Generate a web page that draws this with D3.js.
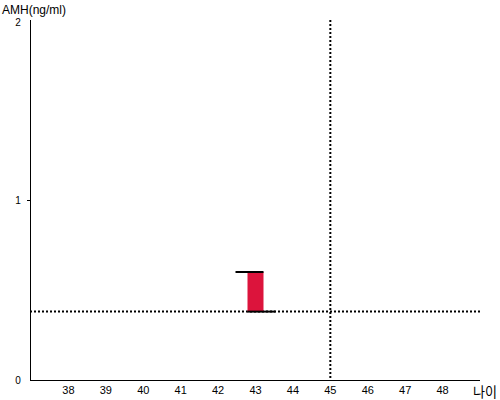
<!DOCTYPE html>
<html>
<head>
<meta charset="utf-8">
<script src="https://cdn.jsdelivr.net/npm/d3@7"></script>
<style>
  body { margin: 0; background: #fff; }
  text { font-family: "Liberation Sans", Arial, sans-serif; fill: #000; }
</style>
</head>
<body>
<div id="chart"></div>
<script>
// data
var ages = [38, 39, 40, 41, 42, 43, 44, 45, 46, 47, 48];
var yTicks = [0, 1, 2];
var barAge = [43];
var barLow = [0.38];
var barHigh = [0.6];
var refAge = 45;
var refAmh = 0.38;

var svg = d3.select("#chart").append("svg")
    .attr("width", 500)
    .attr("height", 400);

var x = d3.scaleLinear().domain([37, 49]).range([31, 480]);
var y = d3.scaleLinear().domain([0, 2]).range([380, 20]);

// axes
svg.append("line")
    .attr("x1", 30.5).attr("x2", 30.5)
    .attr("y1", y(2)).attr("y2", y(0))
    .attr("stroke", "#000");
svg.append("line")
    .attr("x1", 30).attr("x2", 480)
    .attr("y1", 380.5).attr("y2", 380.5)
    .attr("stroke", "#000");

svg.selectAll(".ytick")
    .data(yTicks.filter(d => d > 0 && d < 2))
    .enter().append("line")
    .attr("x1", 27).attr("x2", 30)
    .attr("y1", d => Math.round(y(d)) + 0.5)
    .attr("y2", d => Math.round(y(d)) + 0.5)
    .attr("stroke", "#000");

svg.selectAll(".ylab")
    .data(yTicks)
    .enter().append("text")
    .attr("x", 18)
    .attr("y", d => d == 2 ? y(d) + 6 : y(d) + 4)
    .attr("text-anchor", "middle")
    .style("font-size", "10px")
    .text(d => d);

svg.selectAll(".xlab")
    .data(ages)
    .enter().append("text")
    .attr("x", d => x(d))
    .attr("y", 394)
    .attr("text-anchor", "middle")
    .style("font-size", "11px")
    .text(d => d);

svg.append("text")
    .attr("x", 2).attr("y", 14)
    .style("font-size", "12px")
    .text("AMH(ng/ml)");

svg.append("text")
    .attr("x", 473).attr("y", 397)
    .attr("textLength", 24)
    .attr("lengthAdjust", "spacingAndGlyphs")
    .style("font-size", "14px")
    .style("font-family", "'Noto Sans CJK KR', sans-serif")
    .text("나이");

// reference lines
svg.append("line")
    .attr("x1", 30).attr("x2", 480)
    .attr("y1", y(refAmh)).attr("y2", y(refAmh))
    .attr("stroke", "#000")
    .attr("stroke-width", 2)
    .attr("stroke-dasharray", "2,2");
svg.append("line")
    .attr("x1", x(refAge)).attr("x2", x(refAge))
    .attr("y1", y(2)).attr("y2", y(0))
    .attr("stroke", "#000")
    .attr("stroke-width", 2)
    .attr("stroke-dasharray", "2,2");

// bar with caps
var bw = 16;
barAge.forEach(function(a, i) {
    var cx = x(a);
    svg.append("rect")
        .attr("x", cx - bw / 2)
        .attr("y", y(barHigh[i]))
        .attr("width", bw)
        .attr("height", y(barLow[i]) - y(barHigh[i]))
        .attr("fill", "#dc143c");
    svg.append("line")
        .attr("x1", cx - bw / 2 - 12).attr("x2", cx + bw / 2)
        .attr("y1", y(barHigh[i])).attr("y2", y(barHigh[i]))
        .attr("stroke", "#000").attr("stroke-width", 2);
    svg.append("line")
        .attr("x1", cx - bw / 2).attr("x2", cx + bw / 2 + 12)
        .attr("y1", y(barLow[i])).attr("y2", y(barLow[i]))
        .attr("stroke", "#000").attr("stroke-width", 2);
});
</script>
</body>
</html>
